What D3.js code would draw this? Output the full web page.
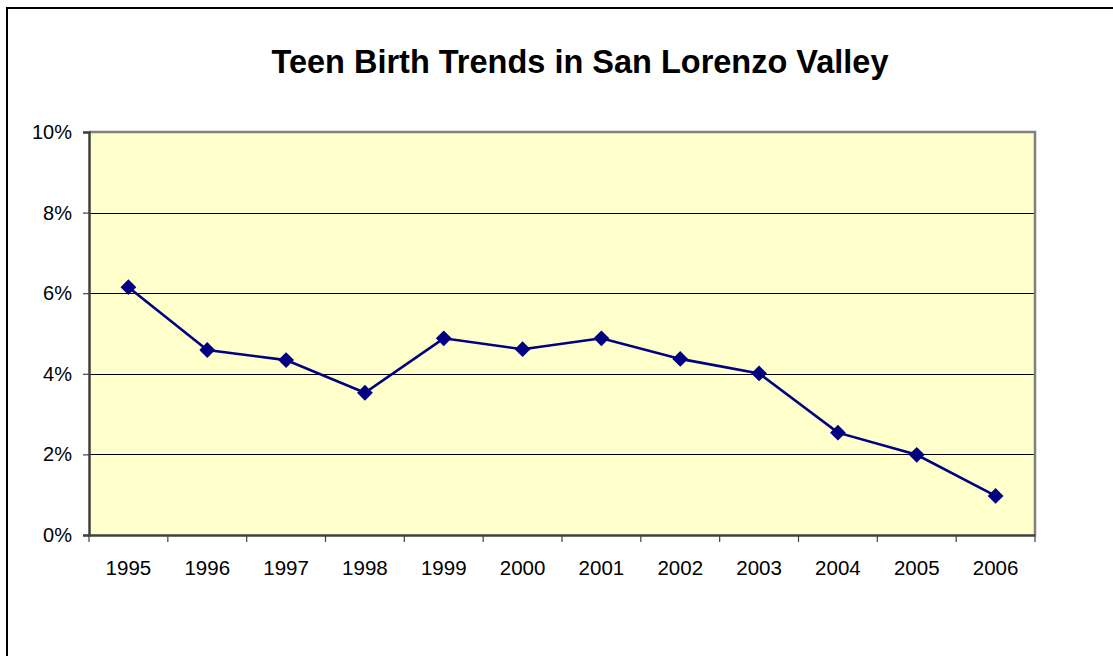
<!DOCTYPE html>
<html>
<head>
<meta charset="utf-8">
<script src="https://cdn.jsdelivr.net/npm/d3@7"></script>
<style>
  html, body { margin: 0; padding: 0; background: #fff; }
  svg { display: block; }
  text { font-family: "Liberation Sans", Arial, sans-serif; }
</style>
</head>
<body>
<svg id="chart" width="1113" height="656"></svg>
<script>
const years = ["1995","1996","1997","1998","1999","2000","2001","2002","2003","2004","2005","2006"];
const rates = [6.15, 4.59, 4.34, 3.53, 4.88, 4.61, 4.88, 4.37, 4.01, 2.54, 1.99, 0.97];
const yTicks = [0, 2, 4, 6, 8, 10];
const title = "Teen Birth Trends in San Lorenzo Valley";

const svg = d3.select("#chart");

// outer chart border (extends beyond the visible area on right/bottom)
svg.append("rect")
  .attr("x", 7).attr("y", 8).attr("width", 1130).attr("height", 680)
  .attr("fill", "#fff").attr("stroke", "#000").attr("stroke-width", 2);

const plot = { left: 89, right: 1035, top: 132, bottom: 535 };

const x = d3.scaleBand().domain(years).range([plot.left, plot.right]).padding(0);
const y = d3.scaleLinear().domain([0, 10]).range([plot.bottom, plot.top]);

// plot background
svg.append("rect")
  .attr("x", plot.left).attr("y", plot.top)
  .attr("width", plot.right - plot.left).attr("height", plot.bottom - plot.top)
  .attr("fill", "#FFFFCC");

// gridlines
svg.append("g")
  .selectAll("line")
  .data(yTicks.filter(d => d > 0 && d < 10))
  .join("line")
  .attr("x1", plot.left).attr("x2", plot.right)
  .attr("y1", d => Math.round(y(d)) + 0.5).attr("y2", d => Math.round(y(d)) + 0.5)
  .attr("stroke", "#000").attr("stroke-width", 1);

// top & right plot border (gray)
svg.append("path")
  .attr("d", `M${plot.left},${plot.top} H${plot.right} V${plot.bottom}`)
  .attr("fill", "none").attr("stroke", "#808080").attr("stroke-width", 2.5);

// y axis
const yAxis = d3.axisLeft(y).tickValues(yTicks).tickSize(6).tickPadding(11)
  .tickFormat(d => d + "%");
const gy = svg.append("g").attr("transform", `translate(${plot.left},0)`).call(yAxis);
gy.select(".domain").attr("stroke", "#404040").attr("stroke-width", 2.5);
gy.selectAll(".tick line").attr("stroke", "#404040").attr("stroke-width", 1.2);
gy.selectAll(".tick text").attr("font-size", 20).attr("fill", "#000")
  .attr("font-family", "'Liberation Sans', Arial, sans-serif");

// x axis
const xAxis = d3.axisBottom(x).tickSize(0).tickPadding(25);
const gx = svg.append("g").attr("transform", `translate(0,${plot.bottom})`).call(xAxis);
gx.select(".domain").attr("stroke", "#404040").attr("stroke-width", 2.5);
gx.selectAll(".tick text").attr("font-size", 20.5).attr("fill", "#000")
  .attr("font-family", "'Liberation Sans', Arial, sans-serif");
// category boundary ticks
const bounds = years.map(d => x(d)).concat([x(years[years.length - 1]) + x.bandwidth()]);
gx.append("g").selectAll("line").data(bounds).join("line")
  .attr("x1", d => d).attr("x2", d => d)
  .attr("y1", 0).attr("y2", 7)
  .attr("stroke", "#404040").attr("stroke-width", 1.2);

// line
const line = d3.line()
  .x((d, i) => x(years[i]) + x.bandwidth() / 2)
  .y(d => y(d));
svg.append("path").datum(rates)
  .attr("d", line)
  .attr("fill", "none").attr("stroke", "#000080").attr("stroke-width", 2.6);

// diamond markers
const diamond = d3.symbol().type(d3.symbolSquare).size(125);
svg.append("g").selectAll("path").data(rates).join("path")
  .attr("d", diamond)
  .attr("transform", (d, i) => `translate(${x(years[i]) + x.bandwidth() / 2},${y(d)}) rotate(45)`)
  .attr("fill", "#000080");

// title
svg.append("text")
  .attr("x", 580).attr("y", 73)
  .attr("text-anchor", "middle")
  .attr("font-size", 32.5).attr("font-weight", "bold").attr("fill", "#000")
  .text(title);
</script>
</body>
</html>
